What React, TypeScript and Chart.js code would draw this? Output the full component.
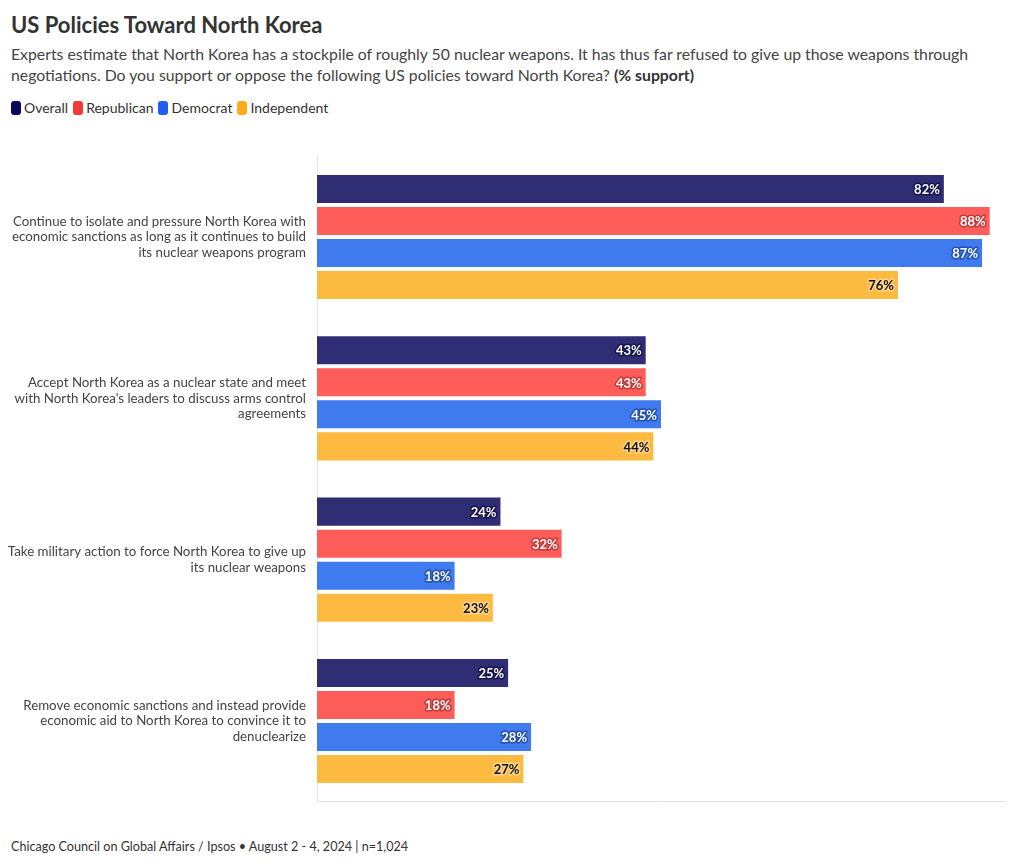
import React, { useEffect, useRef } from "react";
import { Chart, registerables } from "chart.js";

Chart.register(...registerables);

const categories: string[][] = [
  ["Continue to isolate and pressure North Korea with", "economic sanctions as long as it continues to build", "its nuclear weapons program"],
  ["Accept North Korea as a nuclear state and meet", "with North Korea's leaders to discuss arms control", "agreements"],
  ["Take military action to force North Korea to give up", "its nuclear weapons"],
  ["Remove economic sanctions and instead provide", "economic aid to North Korea to convince it to", "denuclearize"],
];

const seriesNames = ["Overall", "Republican", "Democrat", "Independent"];
const overall = [82, 43, 24, 25];
const republican = [88, 43, 32, 18];
const democrat = [87, 45, 18, 28];
const independent = [76, 44, 23, 27];

const barColors = ["#2f2e75", "#fe5d5a", "#3f7aef", "#fdba40"];
const legendColors = ["#0b0a5c", "#f23a36", "#1f5cef", "#ffab1c"];
const haloColors = ["#15144a", "#c23a38", "#2250b0", "#fdd58a"];
const labelColors = ["#ffffff", "#ffffff", "#ffffff", "#111111"];

const FONT = "Lato, 'Source Sans Pro', sans-serif";

const labelPlugin = {
  id: "barLabels",
  afterDatasetsDraw(chart: any) {
    const ctx = chart.ctx;
    ctx.save();
    ctx.font = `bold 13px ${FONT}`;
    ctx.textAlign = "right";
    ctx.textBaseline = "middle";
    ctx.lineJoin = "round";
    chart.data.datasets.forEach((ds: any, i: number) => {
      const meta = chart.getDatasetMeta(i);
      meta.data.forEach((bar: any, j: number) => {
        const txt = `${ds.data[j]}%`;
        const x = bar.x - 4;
        const y = bar.y + 1;
        ctx.lineWidth = 3;
        ctx.strokeStyle = haloColors[i];
        ctx.strokeText(txt, x, y);
        ctx.fillStyle = labelColors[i];
        ctx.fillText(txt, x, y);
      });
    });
    ctx.restore();
  },
};

export default function App() {
  const ref = useRef<HTMLCanvasElement>(null);

  useEffect(() => {
    if (!ref.current) return;
    const seriesData = [overall, republican, democrat, independent];
    const chart = new Chart(ref.current, {
      type: "bar",
      data: {
        labels: categories,
        datasets: seriesNames.map((name, i) => ({
          label: name,
          data: seriesData[i],
          backgroundColor: barColors[i],
          borderWidth: 0,
          categoryPercentage: 0.794,
          barPercentage: 0.875,
        })),
      },
      options: {
        indexAxis: "y",
        animation: false,
        responsive: false,
        maintainAspectRatio: false,
        layout: { padding: { top: 10, right: 15, bottom: 10, left: 0 } },
        plugins: {
          legend: { display: false },
          tooltip: { enabled: false },
        },
        scales: {
          x: {
            min: 0,
            max: 90,
            grid: { display: false },
            ticks: { display: false },
            border: { display: true, color: "#e6e6e6", width: 1 },
          },
          y: {
            grid: { display: false },
            border: { display: true, color: "#e6e6e6", width: 1 },
            ticks: {
              color: "#444444",
              font: { family: FONT, size: 13.3, lineHeight: 1.17 },
              padding: 3,
            },
            afterFit: (s: any) => {
              s.width = 317;
            },
          },
        },
      },
      plugins: [labelPlugin],
    });
    return () => chart.destroy();
  }, []);

  return (
    <div
      style={{
        position: "fixed",
        left: 0,
        top: 0,
        width: 1020,
        height: 868,
        background: "#ffffff",
        fontFamily: FONT,
        overflow: "hidden",
      }}
    >
      <div style={{ position: "absolute", left: 11, top: 11, fontSize: 22, fontWeight: 700, color: "#333333", whiteSpace: "nowrap" }}>
        US Policies Toward North Korea
      </div>
      <div style={{ position: "absolute", left: 11, top: 43, fontSize: 15.8, lineHeight: "21px", color: "#444444", whiteSpace: "nowrap" }}>
        Experts estimate that North Korea has a stockpile of roughly 50 nuclear weapons. It has thus far refused to give up those weapons through
        <br />
        negotiations. Do you support or oppose the following US policies toward North Korea? <b style={{ color: "#333333" }}>(% support)</b>
      </div>
      <canvas ref={ref} width={1020} height={698} style={{ position: "absolute", left: 0, top: 130, width: 1020, height: 698 }} />
      <div style={{ position: "absolute", left: 11, top: 99, display: "flex", alignItems: "center", fontSize: 14, color: "#333333", whiteSpace: "nowrap" }}>
        {seriesNames.map((n, i) => (
          <span key={n} style={{ display: "inline-flex", alignItems: "center", marginRight: 5 }}>
            <span style={{ display: "inline-block", width: 10, height: 14, borderRadius: 3, background: legendColors[i], marginRight: 3 }} />
            {n}
          </span>
        ))}
      </div>
      <div style={{ position: "absolute", left: 11, top: 839, fontSize: 12.6, color: "#333333", whiteSpace: "nowrap" }}>
        Chicago Council on Global Affairs / Ipsos • August 2 - 4, 2024 | n=1,024
      </div>
    </div>
  );
}
